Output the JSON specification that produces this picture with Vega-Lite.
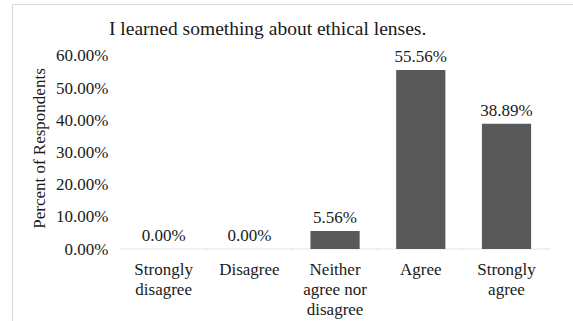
{
  "$schema": "https://vega.github.io/schema/vega-lite/v6.json",
  "width": 561,
  "height": 317,
  "autosize": {"type": "none"},
  "padding": {"left": 12, "top": 4, "right": 0, "bottom": 0},
  "background": "#ffffff",
  "config": {
    "view": {"stroke": null},
    "font": "Liberation Serif"
  },
  "title": {
    "text": "I learned something about ethical lenses.",
    "anchor": "start",
    "frame": "group",
    "dx": 97,
    "offset": -35,
    "font": "Liberation Serif",
    "fontSize": 19.5,
    "fontWeight": "normal",
    "color": "#1a1a1a"
  },
  "data": {
    "values": [
      {"response": "Strongly disagree", "share": 0.0},
      {"response": "Disagree", "share": 0.0},
      {"response": "Neither agree nor disagree", "share": 0.0556},
      {"response": "Agree", "share": 0.5556},
      {"response": "Strongly agree", "share": 0.3889}
    ]
  },
  "resolve": {"axis": {"x": "independent", "y": "independent"}},
  "layer": [
    {
      "mark": {"type": "tick", "orient": "horizontal", "size": 88, "thickness": 1, "color": "#d9d9d9"},
      "encoding": {
        "x": {
          "field": "response",
          "type": "nominal",
          "sort": null,
          "scale": {"paddingInner": 0.426, "paddingOuter": 0.985, "align": 0.752},
          "axis": {"orient": "top", "domain": true, "domainColor": "#d9d9d9", "labels": false, "ticks": false, "title": null}
        },
        "y": {
          "datum": 0,
          "type": "quantitative",
          "scale": {"domain": [-0.2236, 0.7609], "nice": false, "zero": false},
          "axis": {"orient": "left", "domain": true, "domainColor": "#d9d9d9", "labels": false, "ticks": false, "grid": false, "title": null}
        }
      }
    },
    {
      "mark": {"type": "bar", "color": "#595959"},
      "encoding": {
        "x": {
          "field": "response",
          "type": "nominal",
          "sort": null,
          "axis": {
            "orient": "bottom",
            "offset": -72,
            "domain": false,
            "ticks": false,
            "tickSize": 0,
            "labelPadding": 12,
            "labelAngle": 0,
            "labelFontSize": 17,
            "labelColor": "#1a1a1a",
            "labelLineHeight": 20,
            "labelBaseline": "top",
            "labelExpr": "datum.value == 'Neither agree nor disagree' ? ['Neither', 'agree nor', 'disagree'] : split(datum.value, ' ')",
            "title": null
          }
        },
        "y": {
          "field": "share",
          "type": "quantitative",
          "axis": {
            "orient": "left",
            "offset": -96,
            "domain": false,
            "ticks": false,
            "tickSize": 0,
            "grid": false,
            "values": [0, 0.1, 0.2, 0.3, 0.4, 0.5, 0.6],
            "format": ".2%",
            "labelPadding": 0,
            "labelFontSize": 17,
            "labelColor": "#1a1a1a",
            "title": "Percent of Respondents",
            "titleFontSize": 17,
            "titleFontWeight": "normal",
            "titleColor": "#1a1a1a",
            "titlePadding": 7,
            "titleY": 144
          }
        }
      }
    },
    {
      "mark": {"type": "text", "baseline": "middle", "dy": -13, "fontSize": 17, "color": "#1a1a1a"},
      "encoding": {
        "x": {"field": "response", "type": "nominal", "sort": null, "axis": null},
        "y": {"field": "share", "type": "quantitative", "axis": null},
        "text": {"field": "share", "type": "quantitative", "format": ".2%"}
      }
    }
  ]
}
